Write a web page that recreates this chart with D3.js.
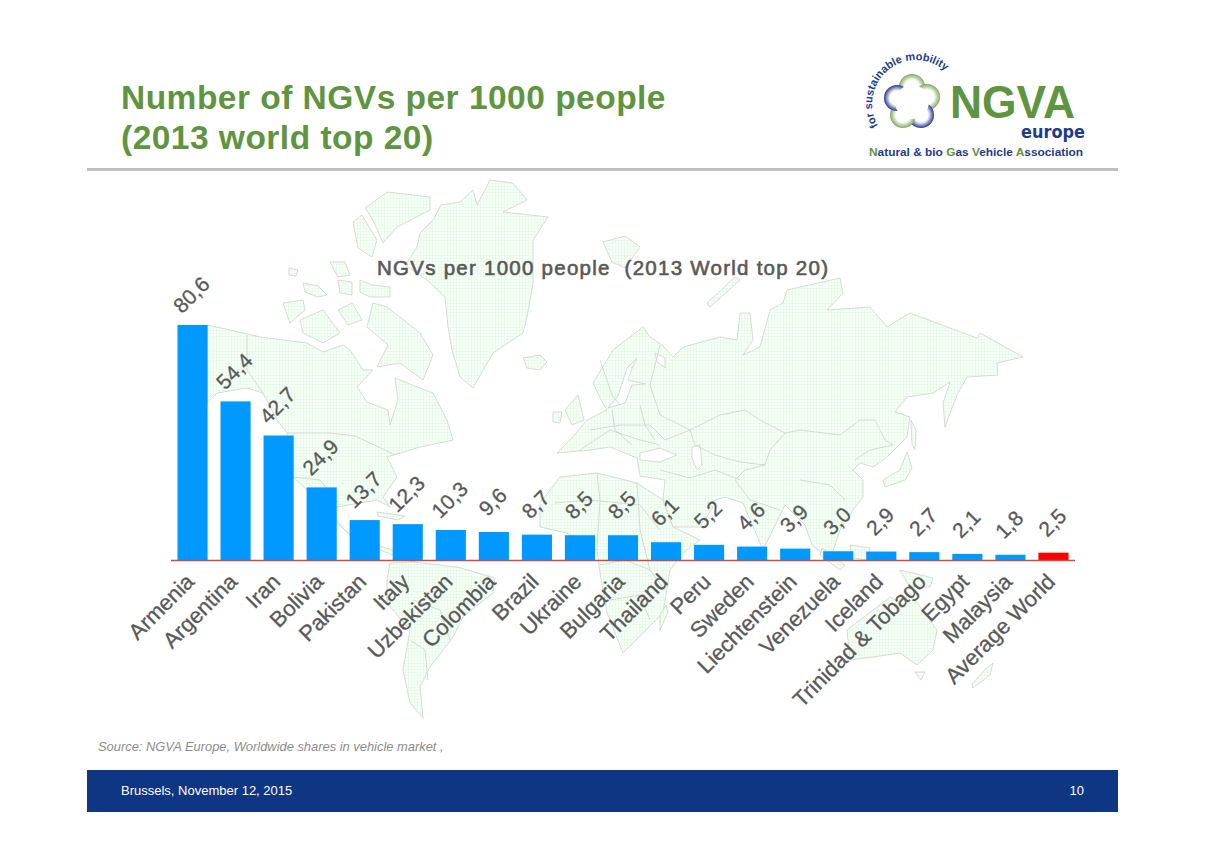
<!DOCTYPE html>
<html>
<head>
<meta charset="utf-8">
<title>Number of NGVs per 1000 people</title>
<script src="https://d3js.org/d3.v7.min.js"></script>
<style>
  html, body { margin: 0; padding: 0; background: #fff; }
  svg { display: block; font-family: "Liberation Sans", Arial, sans-serif; }
</style>
</head>
<body>
<script>
var categories = ["Armenia","Argentina","Iran","Bolivia","Pakistan","Italy","Uzbekistan","Colombia","Brazil","Ukraine","Bulgaria","Thailand","Peru","Sweden","Liechtenstein","Venezuela","Iceland","Trinidad & Tobago","Egypt","Malaysia","Average World"];
var values = [80.6,54.4,42.7,24.9,13.7,12.3,10.3,9.6,8.7,8.5,8.5,6.1,5.2,4.6,3.9,3.0,2.9,2.7,2.1,1.8,2.5];

// background map, rough outlines in page pixels
var landShapes = [
  // greenland
  [[420,233],[433,220],[441,205],[460,202],[473,190],[477,205],[490,180],[513,183],[527,200],[503,212],[548,217],[533,240],[533,283],[527,317],[523,333],[493,353],[473,388],[460,377],[452,350],[448,327],[445,297],[427,280],[405,265],[417,247]],
  // arctic islands
  [[365,208],[387,192],[430,197],[430,210],[397,227],[383,243],[373,220]],
  [[353,222],[362,215],[377,240],[372,257],[358,248]],
  [[360,280],[372,285],[390,287],[390,297],[370,297],[360,292]],
  [[303,283],[318,286],[327,295],[318,297],[305,292]],
  [[289,268],[298,270],[296,276],[289,275]],
  [[330,262],[345,262],[350,275],[338,277]],
  [[338,280],[352,282],[352,295],[340,293]],
  [[283,303],[303,300],[305,310],[290,323]],
  [[300,320],[323,310],[340,333],[323,343],[303,333]],
  [[338,310],[352,303],[362,320],[348,325]],
  [[373,303],[387,307],[420,333],[433,355],[423,380],[400,363],[377,367],[388,345],[367,327]],
  // north and central america
  [[207,325],[230,330],[260,337],[307,343],[323,352],[343,345],[350,350],[363,370],[373,370],[357,387],[367,402],[388,410],[390,425],[398,400],[395,378],[417,387],[433,393],[447,420],[453,440],[420,447],[387,457],[397,477],[383,497],[390,507],[377,500],[337,507],[337,523],[360,543],[383,547],[420,560],[412,562],[385,552],[352,538],[333,517],[307,490],[293,477],[287,433],[277,420],[263,393],[247,388],[217,393],[207,403]],
  // caribbean
  [[377,512],[405,516],[398,520],[378,516]],
  // south america
  [[390,563],[413,562],[457,567],[495,578],[493,593],[463,617],[453,637],[430,667],[420,687],[423,718],[410,703],[403,670],[410,630],[387,603],[387,580]],
  // africa
  [[540,503],[560,477],[597,473],[637,483],[663,500],[673,527],[700,540],[683,553],[670,570],[663,613],[643,633],[623,653],[607,613],[600,573],[597,550],[567,533],[540,527]],
  // eurasia
  [[557,453],[570,440],[587,420],[607,410],[600,398],[593,383],[613,350],[643,327],[650,337],[662,345],[673,357],[683,347],[720,337],[737,340],[740,313],[750,313],[753,340],[743,355],[760,347],[770,310],[783,303],[787,290],[840,278],[843,293],[827,310],[870,307],[887,327],[910,313],[950,328],[977,338],[980,333],[1023,357],[997,363],[998,375],[967,377],[957,395],[945,427],[943,403],[950,382],[933,393],[907,397],[895,412],[910,417],[907,437],[887,457],[873,467],[860,463],[853,470],[863,480],[863,497],[853,510],[840,530],[830,560],[812,545],[805,525],[785,505],[763,550],[743,503],[725,497],[707,503],[713,507],[700,527],[673,527],[663,500],[665,480],[640,476],[637,458],[610,447],[590,450]],
  // islands
  [[523,358],[540,355],[547,362],[540,370],[527,368]],
  [[603,242],[625,236],[640,247],[625,268],[612,262]],
  [[707,303],[735,277],[740,280],[720,298],[710,307]],
  [[565,410],[578,395],[584,420],[572,425]],
  [[553,412],[562,412],[560,423],[553,422]],
  [[907,452],[912,468],[905,480],[885,487],[883,480],[900,470]],
  [[911,420],[916,430],[915,450],[912,445]],
  [[847,630],[877,607],[890,597],[900,603],[910,593],[937,630],[933,650],[917,665],[900,653],[873,657],[850,660]],
  [[915,672],[925,672],[921,680]],
  [[993,663],[990,675],[973,688],[972,684],[985,670]],
  [[900,570],[933,578],[930,587],[910,587]],
  [[850,545],[870,548],[868,560],[852,558]],
  [[822,548],[845,565],[840,570],[820,555]],
  [[660,615],[666,605],[668,612],[660,630]]
];
// inland water drawn over the land
var waterShapes = [
  [[640,453],[660,448],[677,455],[660,462],[640,460]],
  [[692,447],[700,445],[702,465],[697,470],[692,458]],
  [[637,358],[627,368],[618,396],[608,408],[625,403],[632,385],[645,384],[628,380],[632,368]],
  [[655,353],[665,358],[665,368],[657,362]]
];
// a few borders
var borderLines = [
  [[287,433],[330,433],[355,436],[385,450],[395,455]],
  [[263,393],[247,370],[247,335]],
  [[293,477],[320,480],[340,505]],
  [[690,430],[720,415],[745,410],[760,420],[785,433],[800,430],[840,435],[860,420],[875,420],[885,440],[893,445],[870,450],[855,460]],
  [[785,433],[770,450],[765,465],[745,470],[735,480],[750,500],[780,510]],
  [[690,430],[695,445],[715,455],[740,462],[765,465]],
  [[660,470],[690,478],[715,470],[740,480]],
  [[600,360],[612,395],[620,405]],
  [[590,430],[620,425],[650,425],[665,440],[690,430]],
  [[580,450],[610,430],[640,440],[660,445]],
  [[612,410],[615,430],[632,445]],
  [[640,405],[645,425],[655,440]],
  [[660,345],[650,385],[660,415],[690,430]],
  [[555,503],[590,500],[640,505],[660,530]],
  [[597,473],[600,500],[597,550]],
  [[637,483],[640,530],[650,570]],
  [[600,565],[625,560],[650,570],[665,590]],
  [[610,600],[640,595],[650,620]],
  [[413,600],[440,610],[450,640]],
  [[410,640],[425,650],[428,680]],
  [[800,480],[830,485],[845,500]]
];

var chartTitle = "NGVs per 1000 people  (2013 World top 20)";
var titleLines = ["Number of NGVs per 1000 people", "(2013 world top 20)"];

var width = 1205, height = 851;
var svg = d3.select("body").append("svg").attr("width", width).attr("height", height);
var defs = svg.append("defs");

var grid = defs.append("pattern").attr("id", "grid").attr("patternUnits", "userSpaceOnUse")
  .attr("width", 3).attr("height", 3);
grid.append("rect").attr("width", 3).attr("height", 3).attr("fill", "#f8fff8");
grid.append("path").attr("d", "M0 0H3M0 0V3").attr("stroke", "#e0fae0").attr("stroke-width", 1);

// header
svg.selectAll(".title").data(titleLines).enter().append("text")
  .attr("class", "title")
  .attr("x", 121)
  .attr("y", function(d, i) { return 109 + i * 40; })
  .attr("font-size", 33.5).attr("font-weight", "bold").attr("fill", "#5f9440")
  .attr("letter-spacing", 0.48)
  .text(function(d) { return d; });
svg.append("rect").attr("x", 87).attr("y", 168).attr("width", 1031).attr("height", 3).attr("fill", "#bfbfbf");

// map
var outline = d3.line().curve(d3.curveLinearClosed);
var open = d3.line();
var map = svg.append("g");
map.selectAll(".land").data(landShapes).enter().append("path")
  .attr("class", "land").attr("d", outline)
  .attr("fill", "url(#grid)").attr("stroke", "#ccd2cc").attr("stroke-width", 0.8);
map.selectAll(".water").data(waterShapes).enter().append("path")
  .attr("class", "water").attr("d", outline)
  .attr("fill", "#fff").attr("stroke", "#ccd2cc").attr("stroke-width", 0.8);
map.selectAll(".border").data(borderLines).enter().append("path")
  .attr("class", "border").attr("d", open)
  .attr("fill", "none").attr("stroke", "#ccd2cc").attr("stroke-width", 0.8);

// chart
var x = d3.scaleBand().domain(categories).range([171, 1075]).paddingInner(0.3).paddingOuter(0.15);
var y = d3.scaleLinear().domain([0, 80.6]).range([560, 325]);
var fmt = function(v) { return d3.format(".1f")(v).replace(".", ","); };

svg.append("text").attr("x", 377).attr("y", 275)
  .attr("font-size", 20.5).attr("fill", "#595959")
  .attr("stroke", "#595959").attr("stroke-width", 0.6)
  .attr("textLength", 451).attr("lengthAdjust", "spacing")
  .style("white-space", "pre")
  .text(chartTitle);

svg.selectAll(".bar").data(categories).enter().append("rect")
  .attr("class", "bar")
  .attr("x", function(d) { return x(d); })
  .attr("y", function(d, i) { return y(values[i]); })
  .attr("width", x.bandwidth())
  .attr("height", function(d, i) { return y(0) - y(values[i]); })
  .attr("fill", function(d) { return d === "Average World" ? "#ff0000" : "#0099ff"; });

svg.selectAll(".val").data(categories).enter().append("text")
  .attr("class", "val")
  .attr("text-anchor", "middle")
  .attr("font-size", 21).attr("fill", "#595959")
  .attr("stroke", "#595959").attr("stroke-width", 0.3)
  .attr("transform", function(d, i) {
    return "translate(" + (x(d) + x.bandwidth() / 2 + 4) + "," + (y(values[i]) - 25) + ") rotate(-45)";
  })
  .text(function(d, i) { return fmt(values[i]); });

var axis = svg.append("g").attr("transform", "translate(0,560)")
  .call(d3.axisBottom(x).tickSize(0).tickPadding(0));
axis.select(".domain").attr("stroke", "#c0504d").attr("stroke-width", 1.6).attr("d", "M171,0.5H1075");
axis.selectAll("text")
  .attr("font-family", "Liberation Sans").attr("font-size", 22).attr("fill", "#595959")
  .attr("stroke", "#595959").attr("stroke-width", 0.3)
  .attr("text-anchor", "end").attr("dy", 0).attr("y", 0)
  .attr("transform", "translate(3,23) rotate(-45)");

// source and footer
svg.append("text").attr("x", 98).attr("y", 751)
  .attr("font-size", 12.9).attr("font-style", "italic").attr("fill", "#8c8c8c")
  .text("Source: NGVA Europe, Worldwide shares in vehicle market ,");
svg.append("rect").attr("x", 87).attr("y", 770).attr("width", 1031).attr("height", 42).attr("fill", "#0f3682");
svg.append("text").attr("x", 121).attr("y", 795).attr("font-size", 13).attr("fill", "#fff")
  .text("Brussels, November 12, 2015");
svg.append("text").attr("x", 1084).attr("y", 795).attr("text-anchor", "end").attr("font-size", 13).attr("fill", "#fff")
  .text("10");

// logo
var logo = svg.append("g");
var petals = [[0, -15, "#7fa860"], [15, -5, "#7fa860"], [9, 13, "#27398f"], [-9, 13, "#7fa860"], [-15, -4, "#27398f"]];
petals.forEach(function(p, i) {
  var g = defs.append("radialGradient").attr("id", "petal" + i);
  g.append("stop").attr("offset", "55%").attr("stop-color", "#fff");
  g.append("stop").attr("offset", "100%").attr("stop-color", p[2]);
});
logo.selectAll(".petal").data(petals).enter().append("circle")
  .attr("class", "petal")
  .attr("cx", function(d) { return 912 + d[0]; })
  .attr("cy", function(d) { return 102 + d[1]; })
  .attr("r", 13)
  .attr("fill", function(d, i) { return "url(#petal" + i + ")"; });
logo.append("circle").attr("cx", 912).attr("cy", 102).attr("r", 17).attr("fill", "#fff");
defs.append("path").attr("id", "arc").attr("d", "M878,126 A38,38 0 0 1 954,82");
logo.append("text").attr("font-size", 11).attr("font-weight", "bold").attr("fill", "#1f3c8c")
  .append("textPath").attr("href", "#arc").text("for sustainable mobility");
logo.append("text").attr("x", 950).attr("y", 118).attr("font-size", 46).attr("font-weight", "bold")
  .attr("fill", "#5f9440").attr("textLength", 125).attr("lengthAdjust", "spacingAndGlyphs").text("NGVA");
logo.append("text").attr("x", 1085).attr("y", 138).attr("text-anchor", "end").attr("font-size", 17)
  .attr("font-weight", "bold").attr("fill", "#1f3c8c").attr("font-family", "DejaVu Sans")
  .attr("textLength", 64).attr("lengthAdjust", "spacingAndGlyphs").text("europe");
var tag = logo.append("text").attr("x", 869).attr("y", 156).attr("font-size", 10.5).attr("font-weight", "bold")
  .attr("fill", "#1f3c8c").attr("textLength", 214).attr("lengthAdjust", "spacingAndGlyphs");
[["N", 1], ["atural & bio ", 0], ["G", 1], ["as ", 0], ["V", 1], ["ehicle ", 0], ["A", 1], ["ssociation", 0]].forEach(function(s) {
  tag.append("tspan").attr("fill", s[1] ? "#5f9440" : "#1f3c8c").text(s[0]);
});
</script>
</body>
</html>
